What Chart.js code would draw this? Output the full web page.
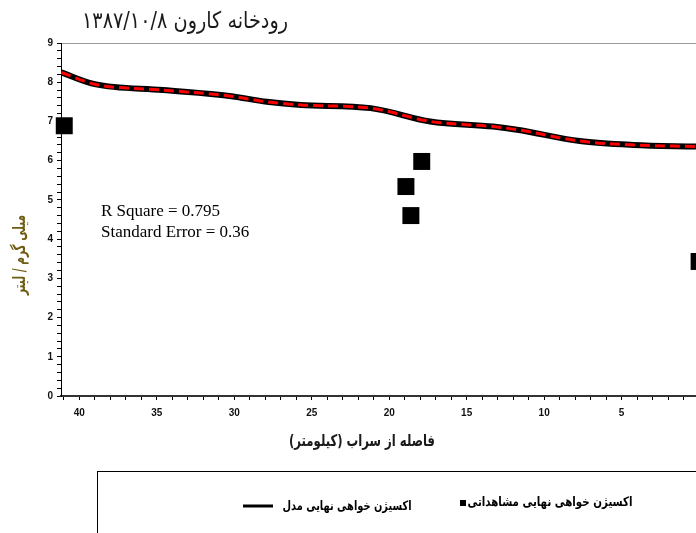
<!DOCTYPE html>
<html>
<head>
<meta charset="utf-8">
<script src="https://cdn.jsdelivr.net/npm/chart.js@4.4.1/dist/chart.umd.min.js"></script>
<style>
  html, body { margin: 0; padding: 0; background: #fff; }
  #wrap { width: 696px; height: 533px; position: relative; }
</style>
</head>
<body>
<div id="wrap"><canvas id="bodChart"></canvas></div>
<script>
// distance from source (km) and ultimate BOD (mg/l)
const modelKm  = [41.16, 39.0, 34.6, 30.3, 27.9, 25.7, 21.2, 17.35, 13.3, 11.75, 7.7, 4.25, 0.2];
const modelBod = [8.25, 7.95, 7.8, 7.65, 7.5, 7.42, 7.34, 7.0, 6.87, 6.79, 6.5, 6.4, 6.36];
const obsKm  = [40.97, 17.9, 18.92, 18.6, 0.0];
const obsBod = [6.89, 5.98, 5.34, 4.6, 3.43];

const titleText = 'رودخانه کارون ۱۳۸۷/۱۰/۸';
const xTitle = 'فاصله از سراب (کیلومتر)';
const yTitle = 'میلی گرم / لیتر';
const modelLabel = 'اکسیژن خواهی نهایی مدل';
const obsLabel = 'اکسیژن خواهی نهایی مشاهداتی';
const statLines = ['R Square = 0.795', 'Standard Error = 0.36'];

const toPoints = (xs, ys) => xs.map((v, i) => ({ x: v, y: ys[i] }));

// draw centred text squeezed to a given width
function fitText(ctx, text, cx, cy, width) {
  const w = ctx.measureText(text).width;
  ctx.save();
  ctx.translate(cx, cy);
  ctx.scale(width / w, 1);
  ctx.fillText(text, 0, 0);
  ctx.restore();
}

const decor = {
  id: 'decor',
  afterDraw(chart) {
    const ctx = chart.ctx;
    const xs = chart.scales.x, ys = chart.scales.y;
    ctx.save();

    ctx.direction = 'rtl';
    ctx.fillStyle = '#1a1a1a';
    ctx.textAlign = 'center';
    ctx.textBaseline = 'middle';
    ctx.font = '23px "DejaVu Sans"';
    fitText(ctx, titleText, 185, 22, 206);

    ctx.font = 'bold 16px "DejaVu Sans"';
    fitText(ctx, xTitle, 362, 442, 146);

    ctx.save();
    ctx.translate(21, 255);
    ctx.rotate(-Math.PI / 2);
    ctx.fillStyle = '#6e5c12';
    ctx.font = 'bold 17px "DejaVu Sans"';
    fitText(ctx, yTitle, 0, 0, 80);
    ctx.restore();

    // fit statistics
    ctx.direction = 'ltr';
    ctx.textAlign = 'left';
    ctx.textBaseline = 'alphabetic';
    ctx.fillStyle = '#000';
    ctx.font = '17px "Liberation Serif"';
    const sx = xs.getPixelForValue(38.6);
    ctx.fillText(statLines[0], sx, ys.getPixelForValue(4.6));
    ctx.fillText(statLines[1], sx, ys.getPixelForValue(4.05));

    // legend box
    ctx.strokeStyle = '#000';
    ctx.lineWidth = 1;
    ctx.strokeRect(97.5, 471.5, 700, 100);

    ctx.lineWidth = 3;
    ctx.beginPath();
    ctx.moveTo(243, 506);
    ctx.lineTo(273, 506);
    ctx.stroke();
    ctx.fillRect(460, 500, 6, 6);

    ctx.direction = 'rtl';
    ctx.textAlign = 'center';
    ctx.textBaseline = 'middle';
    ctx.font = 'bold 13px "DejaVu Sans"';
    fitText(ctx, modelLabel, 347, 507, 129);
    fitText(ctx, obsLabel, 550, 503, 165);

    ctx.restore();
  }
};

const isInt = v => Math.abs(v - Math.round(v)) < 1e-6;

new Chart(document.getElementById('bodChart').getContext('2d'), {
  type: 'scatter',
  data: {
    datasets: [
      {
        label: modelLabel,
        data: toPoints(modelKm, modelBod),
        showLine: true,
        borderColor: '#000',
        borderWidth: 6,
        pointRadius: 0,
        cubicInterpolationMode: 'monotone',
        order: 2
      },
      {
        label: modelLabel,
        data: toPoints(modelKm, modelBod),
        showLine: true,
        borderColor: '#ff0000',
        borderWidth: 3,
        borderDash: [10, 5],
        pointRadius: 0,
        cubicInterpolationMode: 'monotone',
        order: 1
      },
      {
        label: obsLabel,
        data: toPoints(obsKm, obsBod),
        pointStyle: 'rect',
        pointRadius: 12,
        pointHoverRadius: 12,
        backgroundColor: '#000',
        borderColor: '#000',
        borderWidth: 0,
        clip: false,
        order: 0
      }
    ]
  },
  options: {
    responsive: true,
    maintainAspectRatio: false,
    animation: false,
    layout: { autoPadding: false, padding: { left: 0, right: 0, top: 43, bottom: 107 } },
    plugins: {
      legend: { display: false },
      title: { display: false },
      tooltip: { enabled: false }
    },
    scales: {
      x: {
        type: 'linear',
        reverse: true,
        min: 0.2,
        max: 41.18,
        afterFit: s => { s.height = 30; },
        border: { color: '#333', width: 2 },
        grid: { drawOnChartArea: false, tickLength: 4, tickColor: '#000' },
        ticks: {
          stepSize: 1,
          includeBounds: false,
          autoSkip: false,
          maxRotation: 0,
          padding: 7,
          color: '#111',
          font: { family: '"Liberation Sans Narrow", "Liberation Sans"', size: 10, weight: 'bold' },
          callback: v => (isInt(v) && Math.round(v) % 5 === 0 && v > 0) ? String(Math.round(v)) : ''
        }
      },
      y: {
        min: 0,
        max: 9,
        afterFit: s => { s.width = 61; },
        border: { color: '#000', width: 1 },
        grid: {
          drawOnChartArea: true,
          tickLength: 4,
          tickColor: '#000',
          color: ctx => (ctx.tick && isInt(ctx.tick.value) && Math.round(ctx.tick.value) === 9) ? '#999' : 'rgba(0,0,0,0)'
        },
        ticks: {
          stepSize: 0.2,
          autoSkip: false,
          padding: 4,
          color: '#111',
          font: { family: '"Liberation Sans Narrow", "Liberation Sans"', size: 10, weight: 'bold' },
          callback: v => isInt(v) ? String(Math.round(v)) : ''
        }
      }
    }
  },
  plugins: [decor]
});
</script>
</body>
</html>
